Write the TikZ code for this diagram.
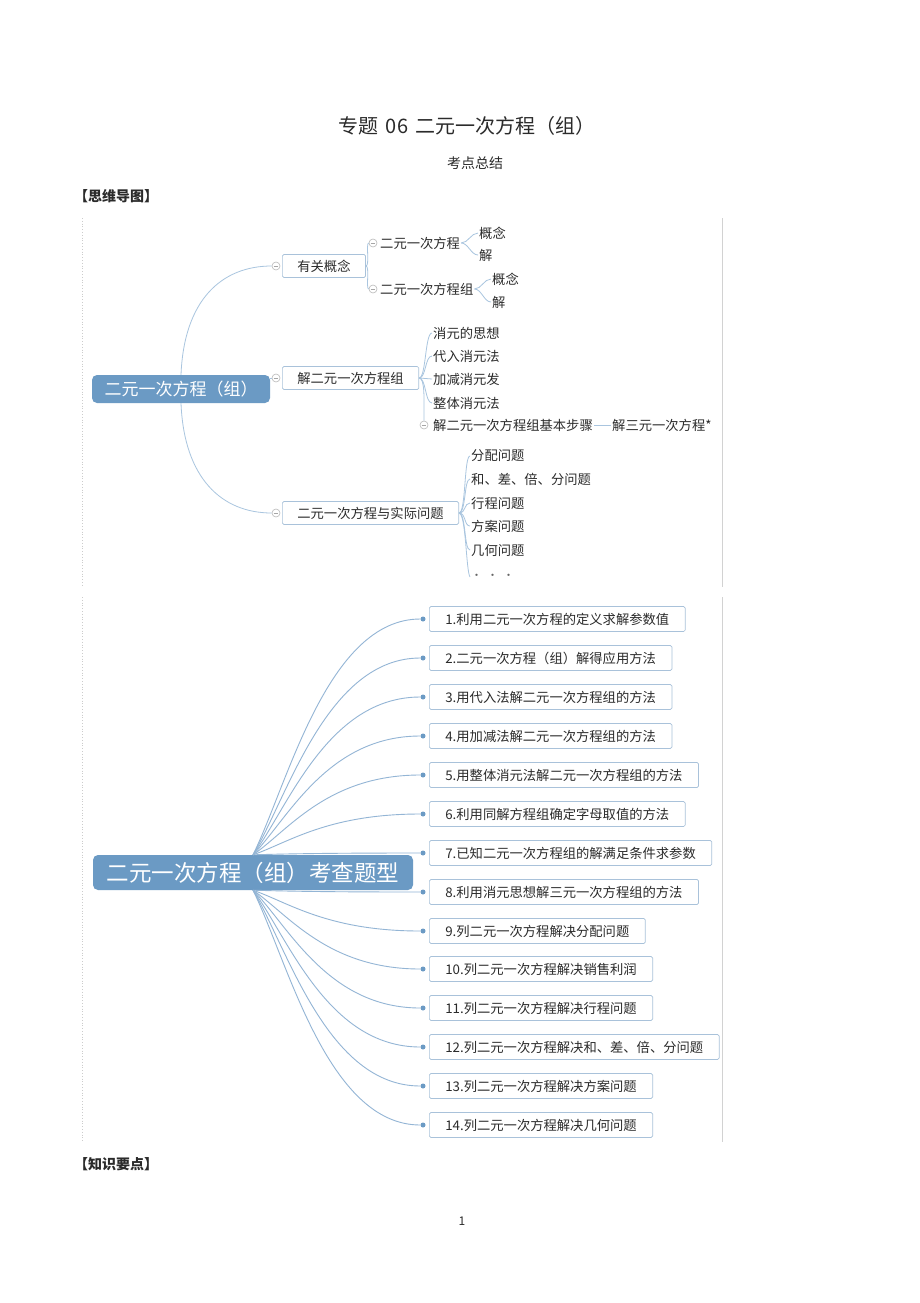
\documentclass[tikz,border=0pt]{standalone}
\usepackage{fontspec}
\setmainfont{Noto Sans CJK SC}
\definecolor{rootblue}{HTML}{6B9AC4}
\definecolor{linkblue}{HTML}{A9C5DF}
\definecolor{typeblue}{HTML}{93B5D5}
\definecolor{boxline}{HTML}{A9C2DA}
\definecolor{ink}{HTML}{2B2B2B}

\begin{document}
\begin{tikzpicture}[x=1pt, y=-1pt,
  every node/.style={text=ink, font=\fontsize{13.3}{15}\selectfont},
  root/.style={fill=rootblue, rounded corners=5pt, text=white, inner ysep=0pt},
  topic/.style={draw=boxline, line width=0.7pt, rounded corners=1.5pt, fill=white, anchor=west, minimum height=23pt, inner xsep=15pt, inner ysep=0pt},
  item/.style={topic, minimum height=25pt, inner xsep=16pt},
  leaf/.style={anchor=west, inner xsep=1pt, inner ysep=0pt},
  fold/.style={circle, draw=gray!55, line width=0.6pt, fill=white, minimum size=8pt, inner sep=0pt,
    path picture={\draw[gray!70, line width=0.6pt] ([xshift=-2.3pt]path picture bounding box.center) -- ([xshift=2.3pt]path picture bounding box.center);}},
  knot/.style={circle, fill=rootblue, inner sep=0pt, minimum size=5pt},
  link/.style={draw=linkblue, line width=0.8pt},
  typelink/.style={draw=typeblue, line width=0.9pt},
  heading/.style={anchor=west, inner sep=0pt, font=\fontsize{14}{16}\selectfont\bfseries}]
\fill[white] (0,0) rectangle (920,1303);
\useasboundingbox (0,0) rectangle (920,1303);

\node[font=\fontsize{20}{22}\selectfont] (title) at (467,126) {专题\hspace{7pt}06\hspace{7pt}二元一次方程（组）};
\node[font=\fontsize{14}{16}\selectfont] (summary) at (475,163) {考点总结};
\node[heading] (maphead) at (74,196) {【思维导图】};
\node[heading] (keyhead) at (74,1164) {【知识要点】};
\node[font=\fontsize{12}{14}\selectfont] (page) at (462,1221) {1};

\draw[gray!40, dotted, line width=0.8pt] (82,218) -- (82,587);
\draw[gray!35, line width=0.8pt] (722,218) -- (722,587);
\draw[gray!40, dotted, line width=0.8pt] (82,597) -- (82,1142);
\draw[gray!35, line width=0.8pt] (722,597) -- (722,1142);

\node[root, minimum width=178pt, minimum height=28pt, font=\fontsize{17}{19}\selectfont] (eq) at (181,389) {二元一次方程（组）};
\node[fold] (f1) at (276,266) {};
\node[fold] (f2) at (276,378) {};
\node[fold] (f3) at (276,513) {};
\node[topic] (concept) at (282,266) {有关概念};
\node[topic] (solve) at (282,378) {解二元一次方程组};
\node[topic] (apply) at (282,513) {二元一次方程与实际问题};
\node[fold] (f4) at (373,243) {};
\node[fold] (f5) at (373,289) {};
\node[leaf] (single) at (379,243) {二元一次方程};
\node[leaf] (system) at (379,289) {二元一次方程组};
\node[leaf] (c1) at (478,233) {概念};
\node[leaf] (s1) at (478,255) {解};
\node[leaf] (c2) at (491,279) {概念};
\node[leaf] (s2) at (491,302) {解};
\node[leaf] (idea) at (432,333) {消元的思想};
\node[leaf] (subst) at (432,356) {代入消元法};
\node[leaf] (addsub) at (432,379) {加减消元发};
\node[leaf] (whole) at (432,403) {整体消元法};
\node[fold] (f6) at (424,425) {};
\node[leaf] (steps) at (432,425) {解二元一次方程组基本步骤};
\node[leaf] (three) at (611,425) {解三元一次方程*};
\node[leaf] (share) at (470,456) {分配问题};
\node[leaf] (multi) at (470,479) {和、差、倍、分问题};
\node[leaf] (trip) at (470,503) {行程问题};
\node[leaf] (plan) at (470,526) {方案问题};
\node[leaf] (geom) at (470,550) {几何问题};
\node[leaf, text=gray!80!black, font=\fontsize{11}{11}\selectfont] (more) at (470,577) {•\hspace{5pt}•\hspace{5pt}•};

\draw[link] (eq.north) .. controls +(3,-75) and +(-50,0) .. (f1.west);
\draw[link] (eq.east |- f2) -- (f2.west);
\draw[link] (eq.south) .. controls +(3,75) and +(-50,0) .. (f3.west);
\draw[link] (concept.east) .. controls +(4,0) and +(-3,0) .. (f4.west);
\draw[link] (concept.east) .. controls +(4,0) and +(-3,0) .. (f5.west);
\draw[link] (single.east) .. controls +(7,0) and +(-7,0) .. (c1.west);
\draw[link] (single.east) .. controls +(7,0) and +(-7,0) .. (s1.west);
\draw[link] (system.east) .. controls +(7,0) and +(-7,0) .. (c2.west);
\draw[link] (system.east) .. controls +(7,0) and +(-7,0) .. (s2.west);
\draw[link] (solve.east) .. controls +(7,0) and +(-7,0) .. (idea.west);
\draw[link] (solve.east) .. controls +(7,0) and +(-7,0) .. (subst.west);
\draw[link] (solve.east) .. controls +(7,0) and +(-7,0) .. (addsub.west);
\draw[link] (solve.east) .. controls +(7,0) and +(-7,0) .. (whole.west);
\draw[link] (solve.east) .. controls +(6,0) and +(0,-20) .. (f6.north);
\draw[link] (steps.east) -- (three.west);
\draw[link] (apply.east) .. controls +(7,0) and +(-6,0) .. (share.west);
\draw[link] (apply.east) .. controls +(7,0) and +(-6,0) .. (multi.west);
\draw[link] (apply.east) .. controls +(7,0) and +(-6,0) .. (trip.west);
\draw[link] (apply.east) .. controls +(7,0) and +(-6,0) .. (plan.west);
\draw[link] (apply.east) .. controls +(7,0) and +(-6,0) .. (geom.west);
\draw[link] (apply.east) .. controls +(7,0) and +(-4,-6) .. (more.west);

\node[root, minimum width=320pt, minimum height=35pt, font=\fontsize{22.5}{24}\selectfont] (types) at (253,872.5) {二元一次方程（组）考查题型};
\node[item] (t1) at (429,619) {1.利用二元一次方程的定义求解参数值};
\node[item] (t2) at (429,658) {2.二元一次方程（组）解得应用方法};
\node[item] (t3) at (429,697) {3.用代入法解二元一次方程组的方法};
\node[item] (t4) at (429,736) {4.用加减法解二元一次方程组的方法};
\node[item] (t5) at (429,775) {5.用整体消元法解二元一次方程组的方法};
\node[item] (t6) at (429,814) {6.利用同解方程组确定字母取值的方法};
\node[item] (t7) at (429,853) {7.已知二元一次方程组的解满足条件求参数};
\node[item] (t8) at (429,892) {8.利用消元思想解三元一次方程组的方法};
\node[item] (t9) at (429,931) {9.列二元一次方程解决分配问题};
\node[item] (t10) at (429,969) {10.列二元一次方程解决销售利润};
\node[item] (t11) at (429,1008) {11.列二元一次方程解决行程问题};
\node[item] (t12) at (429,1047) {12.列二元一次方程解决和、差、倍、分问题};
\node[item] (t13) at (429,1086) {13.列二元一次方程解决方案问题};
\node[item] (t14) at (429,1125) {14.列二元一次方程解决几何问题};
\node[knot] (k1) at (423,619) {};
\node[knot] (k2) at (423,658) {};
\node[knot] (k3) at (423,697) {};
\node[knot] (k4) at (423,736) {};
\node[knot] (k5) at (423,775) {};
\node[knot] (k6) at (423,814) {};
\node[knot] (k7) at (423,853) {};
\node[knot] (k8) at (423,892) {};
\node[knot] (k9) at (423,931) {};
\node[knot] (k10) at (423,969) {};
\node[knot] (k11) at (423,1008) {};
\node[knot] (k12) at (423,1047) {};
\node[knot] (k13) at (423,1086) {};
\node[knot] (k14) at (423,1125) {};

\draw[typelink] (types.north) .. controls +(35,-71) and +(-93,0) .. (k1.west);
\draw[typelink] (types.north) .. controls +(35,-59) and +(-93,0) .. (k2.west);
\draw[typelink] (types.north) .. controls +(35,-47) and +(-93,0) .. (k3.west);
\draw[typelink] (types.north) .. controls +(35,-36) and +(-93,0) .. (k4.west);
\draw[typelink] (types.north) .. controls +(35,-24) and +(-93,0) .. (k5.west);
\draw[typelink] (types.north) .. controls +(35,-12) and +(-93,0) .. (k6.west);
\draw[typelink] (types.north) .. controls +(35,-1) and +(-93,0) .. (k7.west);
\draw[typelink] (types.south) .. controls +(35,1) and +(-93,0) .. (k8.west);
\draw[typelink] (types.south) .. controls +(35,12) and +(-93,0) .. (k9.west);
\draw[typelink] (types.south) .. controls +(35,24) and +(-93,0) .. (k10.west);
\draw[typelink] (types.south) .. controls +(35,35) and +(-93,0) .. (k11.west);
\draw[typelink] (types.south) .. controls +(35,47) and +(-93,0) .. (k12.west);
\draw[typelink] (types.south) .. controls +(35,59) and +(-93,0) .. (k13.west);
\draw[typelink] (types.south) .. controls +(35,71) and +(-93,0) .. (k14.west);
\end{tikzpicture}
\end{document}
